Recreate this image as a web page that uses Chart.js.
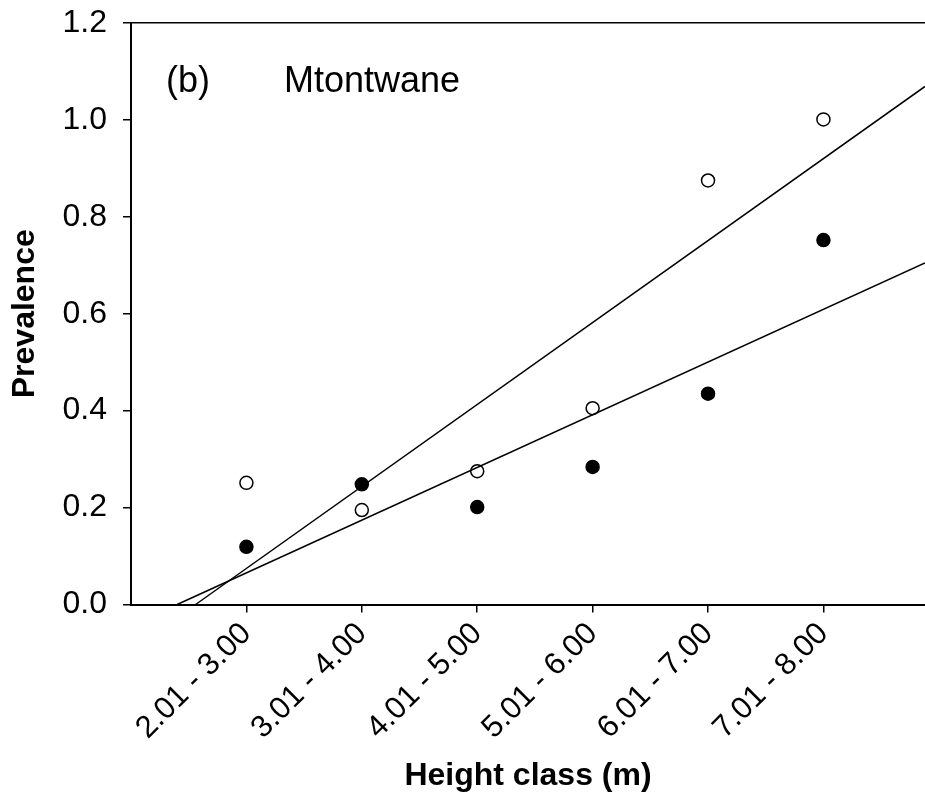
<!DOCTYPE html>
<html>
<head>
<meta charset="utf-8">
<script src="https://cdn.jsdelivr.net/npm/chart.js@4.4.0/dist/chart.umd.min.js"></script>
<style>
  html, body { margin: 0; padding: 0; background: #fff; }
  #wrap { width: 925px; height: 798px; }
</style>
</head>
<body>
<div id="wrap"><canvas id="graph" width="925" height="798"></canvas></div>
<script>
// height classes and their position on the x scale (upper bound of class)
var classLabels = ['2.01 - 3.00', '3.01 - 4.00', '4.01 - 5.00', '5.01 - 6.00', '6.01 - 7.00', '7.01 - 8.00'];
var classPos = [3, 4, 5, 6, 7, 8];

// prevalence values
var openVals = [0.251, 0.195, 0.275, 0.405, 0.875, 1.001];
var filledVals = [0.119, 0.248, 0.201, 0.284, 0.435, 0.752];

// fitted lines, endpoints
var openFitX = [2.56, 8.88];
var openFitY = [0.0, 1.069];
var filledFitX = [2.40, 8.88];
var filledFitY = [0.0, 0.705];

var yTicks = [0, 0.2, 0.4, 0.6, 0.8, 1.0, 1.2];

function pts(xs, ys) {
    var out = [];
    for (var i in xs) {
        out.push({ x: xs[i], y: ys[i] });
    }
    return out;
}

var fontName = '"Liberation Sans", Arial, sans-serif';

// label text inside the plot
var labelPlugin = {
    id: 'panelLabel',
    afterDraw: function (chart) {
        var c = chart.ctx;
        c.save();
        c.fillStyle = '#000';
        c.font = '36px ' + fontName;
        c.textBaseline = 'alphabetic';
        c.fillText('(b)', 166, 92);
        c.fillText('Mtontwane', 284, 92);
        c.restore();
    }
};

var gTarget = document.getElementById('graph');
var chart = new Chart(gTarget, {
    type: 'scatter',
    data: {
        datasets: [
            {
                label: 'fit open',
                type: 'line',
                data: pts(openFitX, openFitY),
                borderColor: '#000',
                borderWidth: 1.5,
                pointRadius: 0,
                fill: false,
                tension: 0
            },
            {
                label: 'fit filled',
                type: 'line',
                data: pts(filledFitX, filledFitY),
                borderColor: '#000',
                borderWidth: 1.5,
                pointRadius: 0,
                fill: false,
                tension: 0
            },
            {
                label: 'open',
                data: pts(classPos, openVals),
                backgroundColor: '#fff',
                borderColor: '#000',
                borderWidth: 1.5,
                pointRadius: 6.5
            },
            {
                label: 'filled',
                data: pts(classPos, filledVals),
                backgroundColor: '#000',
                borderColor: '#000',
                borderWidth: 1.5,
                pointRadius: 6.5
            }
        ]
    },
    options: {
        responsive: false,
        animation: false,
        clip: false,
        layout: { autoPadding: false, padding: { left: 0, right: 0, top: 23, bottom: 0 } },
        plugins: {
            legend: { display: false },
            tooltip: { enabled: false }
        },
        scales: {
            x: {
                type: 'linear',
                min: 2,
                max: 8.88,
                afterBuildTicks: function (scale) {
                    scale.ticks = classPos.map(function (v) { return { value: v }; });
                },
                afterFit: function (scale) {
                    scale.height = 193.5;
                    scale.paddingLeft = 0;
                    scale.paddingRight = 0;
                },
                border: { display: true, color: '#000', width: 2 },
                grid: { display: true, drawOnChartArea: false, drawTicks: true, tickLength: 8, color: '#000', lineWidth: 1.5 },
                ticks: {
                    autoSkip: false,
                    maxRotation: 45,
                    minRotation: 45,
                    padding: 3,
                    color: '#000',
                    font: { family: fontName, size: 31 },
                    callback: function (v) {
                        var i = classPos.indexOf(v);
                        return i >= 0 ? classLabels[i] : '';
                    }
                },
                title: {
                    display: true,
                    text: 'Height class (m)',
                    color: '#000',
                    font: { family: fontName, size: 32, weight: 'bold' },
                    padding: { top: 0, bottom: 3 }
                }
            },
            y: {
                type: 'linear',
                min: 0,
                max: 1.2,
                afterBuildTicks: function (scale) {
                    scale.ticks = yTicks.map(function (v) { return { value: v }; });
                },
                afterFit: function (scale) {
                    scale.width = 131;
                    scale.paddingTop = 0;
                    scale.paddingBottom = 0;
                },
                border: { display: true, color: '#000', width: 2 },
                grid: {
                    display: true,
                    drawOnChartArea: true,
                    drawTicks: true,
                    tickLength: 8,
                    lineWidth: 1.5,
                    tickColor: '#000',
                    color: function (ctx) {
                        return ctx.tick && ctx.tick.value === 1.2 ? '#000' : 'rgba(0,0,0,0)';
                    }
                },
                ticks: {
                    padding: 16,
                    color: '#000',
                    font: { family: fontName, size: 32 },
                    callback: function (v) { return v.toFixed(1); }
                },
                title: {
                    display: true,
                    text: 'Prevalence',
                    color: '#000',
                    font: { family: fontName, size: 32, weight: 'bold' },
                    padding: { top: 6, bottom: 0 }
                }
            }
        }
    },
    plugins: [labelPlugin]
});
</script>
</body>
</html>
